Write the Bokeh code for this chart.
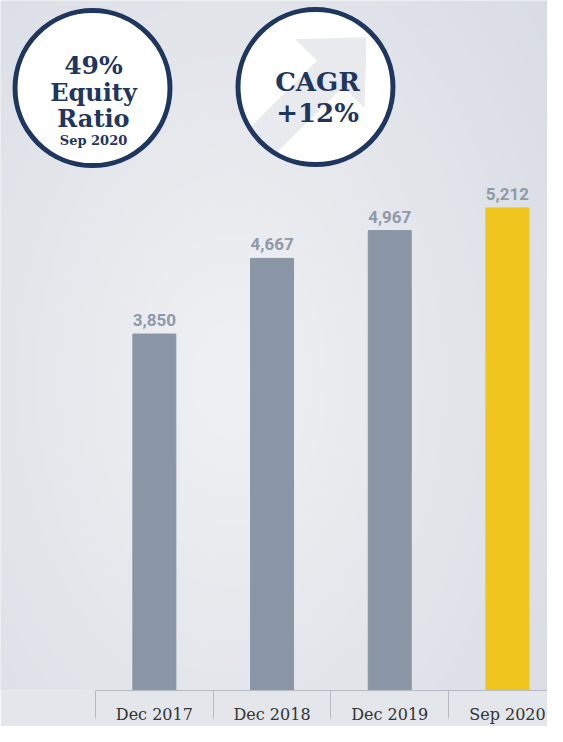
import numpy as np
from bokeh.plotting import figure
from bokeh.models import Range1d, FixedTicker, ColumnDataSource
from bokeh.core.properties import value
from bokeh.embed import file_html
from bokeh.resources import INLINE

# ---- data ----
categories = ["Dec 2017", "Dec 2018", "Dec 2019", "Sep 2020"]
values = [3850, 4667, 4967, 5212]
value_labels = ["3,850", "4,667", "4,967", "5,212"]
bar_colors = ["#8a96a6", "#8a96a6", "#8a96a6", "#efc51e"]

badge1_lines = ["49%", "Equity", "Ratio", "Sep 2020"]
badge2_lines = ["CAGR", "+12%"]

# ---- layout ----
W, H = 547, 726
BAND = 117.7                 # px per category
X0 = -95 / BAND
X1 = X0 + W / BAND
PLOT_BOTTOM = 33
FRAME_H = H - PLOT_BOTTOM
YSCALE = 0.09299             # px per unit
Y1 = FRAME_H / YSCALE

NAVY = "#1f365f"


def fx(sx):
    return X0 + sx / BAND


def fy(sy):
    return (FRAME_H - sy) / YSCALE


p = figure(width=W, height=H, output_backend="svg", toolbar_location=None,
           x_range=Range1d(X0, X1), y_range=Range1d(0, Y1),
           y_axis_location=None,
           min_border_left=0, min_border_right=0, min_border_top=0,
           min_border_bottom=PLOT_BOTTOM)
p.outline_line_color = None
p.grid.visible = False
p.border_fill_color = "#e3e6eb"
p.background_fill_color = "#e6e9ed"

# ---- background gradient ----
ny, nx = 240, 180
gx = np.linspace(0, 1, nx)[None, :]
gy = np.linspace(0, 1, ny)[:, None]          # 0 = bottom
d = np.sqrt(((gx - 0.42) / 0.75) ** 2 + ((gy - 0.45) / 0.9) ** 2)
d = np.clip(d, 0, 1)
light = np.array([0xf0, 0xf1, 0xf4], dtype=float)
dark = np.array([0xd8, 0xdc, 0xe3], dtype=float)
rgb = light[None, None, :] * (1 - d[..., None]) + dark[None, None, :] * d[..., None]
img = np.empty((ny, nx), dtype=np.uint32)
view = img.view(dtype=np.uint8).reshape((ny, nx, 4))
view[..., 0] = rgb[..., 0].astype(np.uint8)
view[..., 1] = rgb[..., 1].astype(np.uint8)
view[..., 2] = rgb[..., 2].astype(np.uint8)
view[..., 3] = 255
p.image_rgba(image=[img], x=X0, y=0, dw=X1 - X0, dh=Y1)

# ---- bars ----
xs = [i + 0.5 for i in range(len(categories))]
src = ColumnDataSource(dict(x=xs, top=values, color=bar_colors, label=value_labels))
p.vbar(x="x", top="top", bottom=0, width=43 / BAND, color="color", source=src)
p.text(x="x", y="top", text="label", source=src, text_align="center",
       text_baseline="alphabetic", y_offset=-14,
       text_font=value("Roboto"), text_font_style="bold",
       text_font_size="17px", text_color="#8e99a9")

# ---- axis ----
ax = p.xaxis[0]
ax.ticker = FixedTicker(ticks=xs, minor_ticks=list(range(len(categories))))
ax.major_label_overrides = {x: c for x, c in zip(xs, categories)}
ax.bounds = (0, X1)
ax.axis_line_color = "#b5bac2"
ax.axis_line_width = 1
ax.major_tick_out = 0
ax.major_tick_in = 0
ax.minor_tick_in = 0
ax.minor_tick_out = 28
ax.minor_tick_line_color = "#b5bac2"
ax.major_label_standoff = -14
ax.major_label_text_font = "DejaVu Serif"
ax.major_label_text_font_size = "16px"
ax.major_label_text_color = "#333333"

# ---- badges ----
c1 = (92, 88)
c2 = (315, 87)
for c in (c1, c2):
    p.scatter(x=[fx(c[0])], y=[fy(c[1])], size=160, marker="circle",
              fill_color="white", line_color=None)

# arrow inside badge 2
R_in = 76.0
C = np.array(c2, dtype=float)
dvec = np.array([-1.0, 1.0]) / np.sqrt(2)


def hit(P):
    P = np.array(P, dtype=float)
    f = P - C
    b = 2 * np.dot(f, dvec)
    cc = np.dot(f, f) - R_in ** 2
    t = (-b + np.sqrt(b * b - 4 * cc)) / 2
    return P + t * dvec


sl = (316.5, 60.5)
sr = (342.5, 86.5)
bl = hit(sl)
br = hit(sr)
a0 = np.arctan2(bl[1] - C[1], bl[0] - C[0])
a1 = np.arctan2(br[1] - C[1], br[0] - C[0])
arc = [(C[0] + R_in * np.cos(a), C[1] + R_in * np.sin(a)) for a in np.linspace(a0, a1, 8)]
pts = [(366, 37), (295, 39), sl] + arc + [sr, (364, 108)]
p.patch(x=[fx(q[0]) for q in pts], y=[fy(q[1]) for q in pts],
        fill_color="#e8eaee", line_color=None)

for c in (c1, c2):
    p.scatter(x=[fx(c[0])], y=[fy(c[1])], size=155, marker="circle",
              fill_color=None, line_color=NAVY, line_width=5)

b1_base = [65, 92, 119, 141]
b1_size = ["25px", "24px", "24px", "13px"]
for t, by, s in zip(badge1_lines, b1_base, b1_size):
    p.text(x=[fx(93)], y=[fy(by)], text=[t], text_align="center",
           text_baseline="alphabetic", text_font=value("DejaVu Serif"),
           text_font_style="bold", text_font_size=s, text_color=NAVY)

b2_base = [82, 113]
for t, by in zip(badge2_lines, b2_base):
    p.text(x=[fx(317)], y=[fy(by)], text=[t], text_align="center",
           text_baseline="alphabetic", text_font=value("DejaVu Serif"),
           text_font_style="bold", text_font_size="26px", text_color=NAVY)

open("out.html", "w").write(file_html(p, INLINE))
